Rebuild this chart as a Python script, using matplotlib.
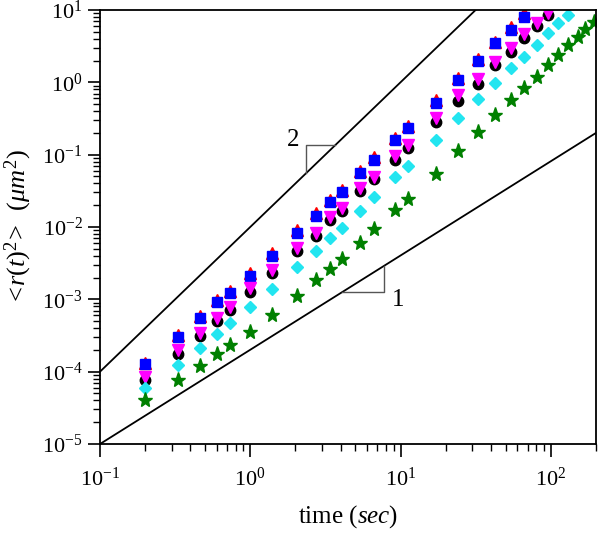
import numpy as np
import matplotlib
matplotlib.use("Agg")
import matplotlib.pyplot as plt
from matplotlib.ticker import FuncFormatter, LogLocator, NullFormatter

plt.rcParams['font.family'] = 'serif'
plt.rcParams['font.serif'] = ['Liberation Serif']
plt.rcParams['mathtext.fontset'] = 'custom'
plt.rcParams['mathtext.rm'] = 'Liberation Serif'
plt.rcParams['mathtext.it'] = 'Liberation Serif:italic'

# time (s), shared by all series
t = [0.2, 0.33, 0.46, 0.6, 0.73, 1.0, 1.39, 2.05, 2.73, 3.39, 4.07, 5.37, 6.65,
     9.18, 11.2, 17.1, 24.1, 32.7, 42.4, 54.0, 66.2, 80.8, 95.6, 111, 130, 151, 170, 193]

msd_red = [1.31e-4, 3.2e-4, 5.9e-4, 9.8e-4, 1.30e-3, 2.31e-3, 4.36e-3, 9.1e-3, 1.56e-2,
           2.36e-2, 3.24e-2, 5.93e-2, 9.3e-2, 0.170, 0.249, 0.569, 1.15, 2.10, 3.61, 5.82, 9.1]
msd_blue = [1.27e-4, 3.0e-4, 5.5e-4, 9.1e-4, 1.22e-3, 2.09e-3, 3.96e-3, 8.2e-3, 1.42e-2,
            2.21e-2, 3.04e-2, 5.57e-2, 8.4e-2, 0.159, 0.233, 0.517, 1.08, 1.97, 3.50, 5.29, 8.0]
msd_black = [7.6e-5, 1.75e-4, 3.1e-4, 5.0e-4, 7.1e-4, 1.26e-3, 2.31e-3, 4.6e-3, 7.5e-3,
             1.25e-2, 1.66e-2, 3.14e-2, 4.6e-2, 8.4e-2, 0.123, 0.282, 0.551, 0.946, 1.74,
             2.63, 4.10, 6.0, 8.5]
msd_magenta = [8.4e-5, 1.99e-4, 3.41e-4, 5.5e-4, 7.8e-4, 1.43e-3, 2.54e-3, 5.1e-3, 8.2e-3,
               1.37e-2, 1.82e-2, 3.45e-2, 4.9e-2, 9.6e-2, 0.136, 0.321, 0.667, 1.11, 1.91,
               2.98, 4.66, 6.61, 9.1]
msd_cyan = [5.9e-5, 1.23e-4, 2.11e-4, 3.3e-4, 4.7e-4, 7.8e-4, 1.38e-3, 2.79e-3, 4.6e-3,
            7.0e-3, 9.7e-3, 1.66e-2, 2.59e-2, 4.9e-2, 6.95e-2, 0.159, 0.321, 0.588, 0.977,
            1.58, 2.24, 3.28, 4.81, 6.61, 8.5]
msd_green = [4.0e-5, 7.6e-5, 1.19e-4, 1.75e-4, 2.33e-4, 3.5e-4, 6.0e-4, 1.11e-3, 1.84e-3,
             2.62e-3, 3.6e-3, 5.99e-3, 9.4e-3, 1.71e-2, 2.43e-2, 5.39e-2, 0.112, 0.205,
             0.353, 0.569, 0.834, 1.18, 1.74, 2.38, 3.28, 4.23, 5.46, 6.82]

# reference lines
slope2_x = [0.1, 31.6]
slope2_y = [1e-4, 10]
slope1_x = [0.1, 200]
slope1_y = [1e-5, 0.2]

fig = plt.figure(figsize=(6.01, 5.35), dpi=100)
ax = fig.add_axes([0.1664, 0.1701, 0.8253, 0.8112])
ax.set_xscale('log')
ax.set_yscale('log')

ax.plot(slope2_x, slope2_y, color='black', lw=1.3)
ax.plot(slope1_x, slope1_y, color='black', lw=1.3)

# slope triangles
tri_gray = '#555555'
x0, x1 = 2.35, 7.77
y2 = 0.136
ax.plot([x0, x0, 0.1 * np.sqrt(y2 / 1e-4)], [1e-4 * (x0 / 0.1) ** 2, y2, y2],
        color=tri_gray, lw=1)
y1 = 1.26e-3
k = np.log10(0.2 / 1e-5) / np.log10(2000)
ax.plot([0.1 * (y1 / 1e-5) ** (1 / k), x1, x1], [y1, y1, 1e-5 * (x1 / 0.1) ** k],
        color=tri_gray, lw=1)
ax.text(1.92, 0.159, '2', fontsize=18, ha='center', va='center')
ax.text(9.6, 9.8e-4, '1', fontsize=18, ha='center', va='center')

ax.plot(t[:len(msd_red)], msd_red, ls='none', marker='^', ms=8, color='red')
ax.plot(t[:len(msd_blue)], msd_blue, ls='none', marker='s', ms=7.3, color='blue')
ax.plot(t[:len(msd_black)], msd_black, ls='none', marker='o', ms=7.5, color='black')
ax.plot(t[:len(msd_magenta)], msd_magenta, ls='none', marker='v', ms=8, color='magenta')
ax.plot(t[:len(msd_cyan)], msd_cyan, ls='none', marker='D', ms=6.5, color='#22e5f0')
ax.plot(t[:len(msd_green)], msd_green, ls='none', marker='*', ms=11, color='green')

ax.set_xlim(0.1, 200)
ax.set_ylim(1e-5, 10)
ax.tick_params(which='both', direction='out', top=False, right=False, labelsize=16, width=1.2)
ax.tick_params(which='major', length=9)
ax.tick_params(which='minor', length=5, width=1)
ax.tick_params(axis='x', pad=8)
pow_fmt = FuncFormatter(lambda v, pos: '$10^{%d}$' % round(np.log10(v)))
ax.xaxis.set_major_formatter(pow_fmt)
ax.yaxis.set_major_formatter(pow_fmt)
ax.xaxis.set_minor_formatter(NullFormatter())
ax.yaxis.set_minor_formatter(NullFormatter())
ax.yaxis.set_minor_locator(LogLocator(base=10, subs=np.arange(2, 10), numticks=20))
ax.xaxis.set_minor_locator(LogLocator(base=10, subs=np.arange(2, 10), numticks=20))
for s in ax.spines.values():
    s.set_linewidth(1.3)

ax.set_xlabel('time ($\\mathit{sec}$)', fontsize=18, labelpad=9)
ax.set_ylabel('$<\\!r(t)^2\\!>\\;\\;(\\mu m^2)$', fontsize=19, labelpad=6)

fig.savefig('out.png', dpi=100)
